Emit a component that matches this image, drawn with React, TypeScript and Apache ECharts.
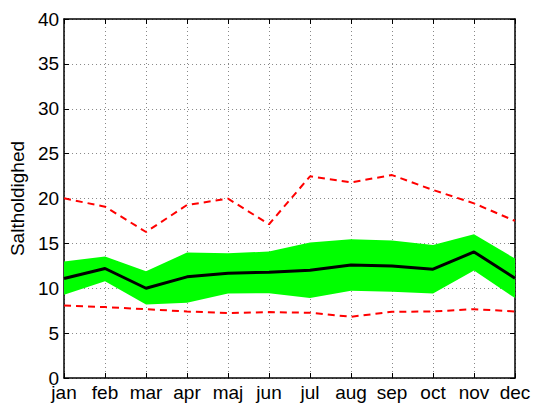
import React, { useEffect, useRef } from "react";
import * as echarts from "echarts";

const months = ["jan", "feb", "mar", "apr", "maj", "jun", "jul", "aug", "sep", "oct", "nov", "dec"];
const meanValues = [11.08, 12.2, 10.0, 11.27, 11.68, 11.79, 12.01, 12.6, 12.49, 12.12, 14.05, 11.12];
const bandUpper = [12.97, 13.53, 11.9, 13.98, 13.9, 14.09, 15.09, 15.46, 15.31, 14.83, 16.01, 13.31];
const bandLower = [9.27, 10.79, 8.19, 8.38, 9.42, 9.45, 8.9, 9.71, 9.6, 9.42, 11.97, 8.9];
const extremeUpper = [20.02, 19.09, 16.27, 19.28, 19.98, 17.13, 22.47, 21.8, 22.61, 20.95, 19.46, 17.5];
const extremeLower = [8.08, 7.9, 7.67, 7.41, 7.23, 7.34, 7.27, 6.82, 7.38, 7.41, 7.67, 7.41];
const yTicks = { min: 0, max: 40, interval: 5 };

const FONT = "'Liberation Sans', Arial, Helvetica, sans-serif";

export default function App() {
  const ref = useRef<HTMLDivElement>(null);
  useEffect(() => {
    if (!ref.current) return;
    const chart = echarts.init(ref.current, undefined, { renderer: "svg" });
    const bandWidth = bandUpper.map((u, i) => +(u - bandLower[i]).toFixed(3));
    const axisLine = { show: true, onZero: false, lineStyle: { color: "#000", width: 1.5 } };
    chart.setOption({
      animation: false,
      backgroundColor: "#fff",
      grid: { left: 59, right: 19, top: 19, bottom: 30, containLabel: false },
      xAxis: [
        {
          type: "category",
          data: months,
          boundaryGap: false,
          axisLine,
          axisTick: { show: true, inside: true, length: 5, lineStyle: { color: "#000" } },
          axisLabel: { color: "#000", fontSize: 19, fontFamily: FONT, margin: 5, interval: 0 },
          splitLine: { show: true, lineStyle: { color: "#888", type: [1, 3], width: 1 } },
        },
        {
          type: "category",
          data: months,
          boundaryGap: false,
          position: "top",
          axisLine,
          axisTick: { show: true, inside: true, length: 5, lineStyle: { color: "#000" } },
          axisLabel: { show: false },
          splitLine: { show: false },
        },
      ],
      yAxis: [
        {
          type: "value",
          min: yTicks.min,
          max: yTicks.max,
          interval: yTicks.interval,
          name: "Saltholdighed",
          nameLocation: "middle",
          nameGap: 32,
          nameTextStyle: { color: "#000", fontSize: 19, fontFamily: FONT },
          axisLine,
          axisTick: { show: true, inside: true, length: 5, lineStyle: { color: "#000" } },
          axisLabel: { color: "#000", fontSize: 19, fontFamily: FONT, margin: 5 },
          splitLine: { show: true, lineStyle: { color: "#888", type: [1, 3], width: 1 } },
        },
        {
          type: "value",
          min: yTicks.min,
          max: yTicks.max,
          interval: yTicks.interval,
          position: "right",
          axisLine,
          axisTick: { show: true, inside: true, length: 5, lineStyle: { color: "#000" } },
          axisLabel: { show: false },
          splitLine: { show: false },
        },
      ],
      series: [
        {
          type: "line",
          data: bandLower,
          stack: "band",
          symbol: "none",
          lineStyle: { opacity: 0 },
          areaStyle: { opacity: 0 },
          silent: true,
          z: 2,
        },
        {
          type: "line",
          data: bandWidth,
          stack: "band",
          symbol: "none",
          lineStyle: { opacity: 0 },
          areaStyle: { color: "#00ff00", opacity: 1 },
          silent: true,
          z: 2,
        },
        {
          type: "line",
          data: extremeUpper,
          symbol: "none",
          lineStyle: { color: "#ff0000", width: 2, type: [7, 5] },
          z: 3,
        },
        {
          type: "line",
          data: extremeLower,
          symbol: "none",
          lineStyle: { color: "#ff0000", width: 2, type: [7, 5] },
          z: 3,
        },
        {
          type: "line",
          data: meanValues,
          symbol: "none",
          lineStyle: { color: "#000", width: 3 },
          z: 4,
        },
      ],
    });
    return () => chart.dispose();
  }, []);
  return <div ref={ref} style={{ width: 534, height: 408, position: "absolute", left: 0, top: 0 }} />;
}
